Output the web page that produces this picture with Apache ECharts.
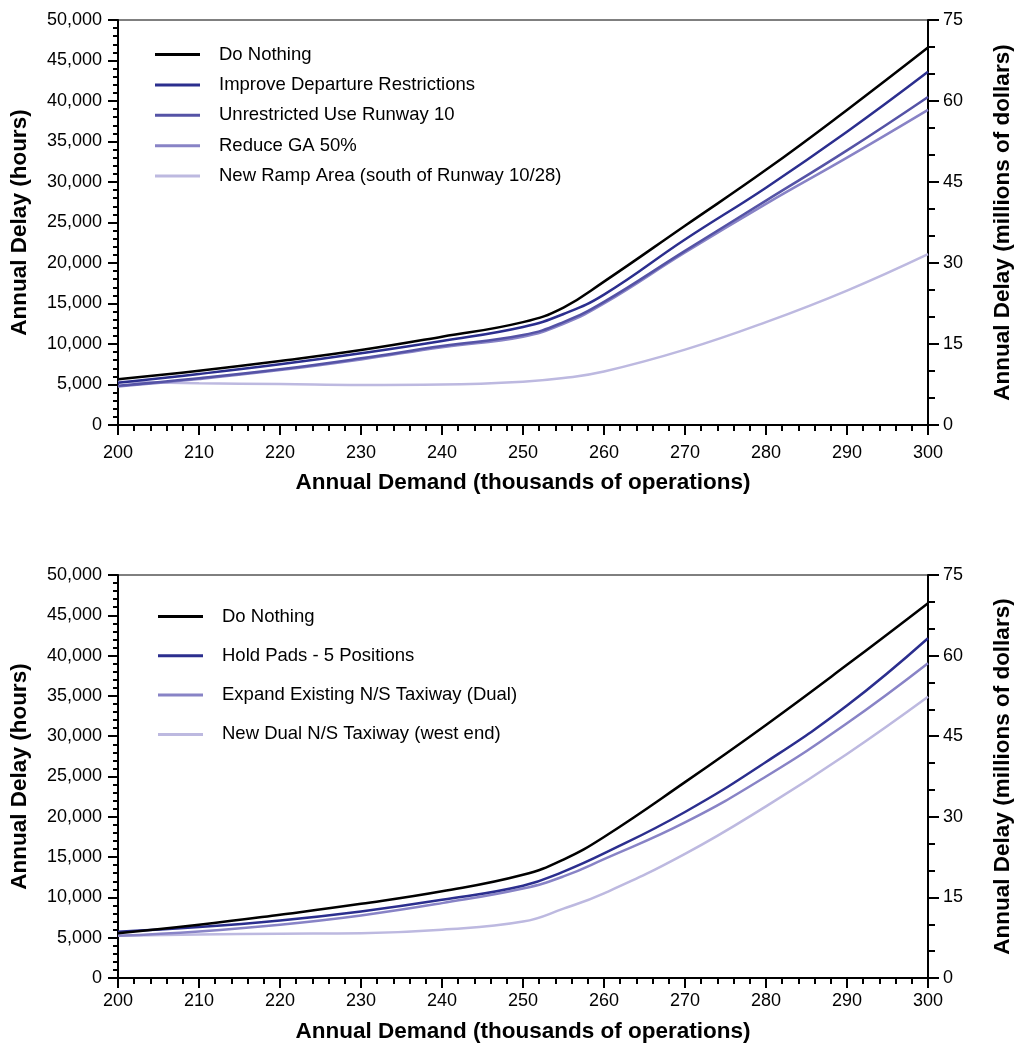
<!DOCTYPE html>
<html>
<head>
<meta charset="utf-8">
<script src="https://cdn.jsdelivr.net/npm/echarts@6/dist/echarts.min.js"></script>
<style>
html,body{margin:0;padding:0;background:#fff;}
#chart{width:1015px;height:1044px;}
</style>
</head>
<body>
<div id="chart"></div>
<script>
// ---- data ----
const demand = [200, 210, 220, 230, 240, 250, 255, 260, 270, 280, 290, 300];

// top chart (hours)
const doNothingTop = [5640, 6700, 7900, 9250, 10900, 12700, 14500, 17700, 24600, 31500, 38900, 46600];
const improveDeparture = [5230, 6300, 7490, 8850, 10370, 12100, 13700, 16100, 22900, 29300, 36200, 43600];
const unrestrictedRwy10 = [4850, 5780, 6880, 8230, 9750, 11100, 12700, 15200, 21500, 27700, 33900, 40500];
const reduceGA = [4750, 5680, 6780, 8100, 9600, 10900, 12500, 15000, 21300, 27300, 33000, 38900];
const newRampArea = [5350, 5140, 5060, 4940, 5000, 5350, 5800, 6600, 9300, 12700, 16600, 21100];

// bottom chart (hours)
const doNothingBottom = [5550, 6600, 7850, 9200, 10750, 12800, 14700, 17500, 24300, 31400, 38850, 46500];
const holdPads = [5750, 6320, 7140, 8260, 9700, 11450, 13200, 15450, 20600, 26800, 33800, 42150];
const expandNS = [5240, 5780, 6610, 7760, 9290, 11100, 12600, 14750, 19300, 25000, 31600, 39050];
const newDualNS = [5240, 5410, 5490, 5560, 5990, 7000, 8600, 10500, 15400, 21300, 27800, 34900];

const topNames = ['Do Nothing', 'Improve Departure Restrictions', 'Unrestricted Use Runway 10', 'Reduce GA 50%', 'New Ramp Area (south of Runway 10/28)'];
const topData = [doNothingTop, improveDeparture, unrestrictedRwy10, reduceGA, newRampArea];
const topColors = ['#000000', '#2b2e8e', '#5553a6', '#8883c6', '#bdb9e0'];

const botNames = ['Do Nothing', 'Hold Pads - 5 Positions', 'Expand Existing N/S Taxiway (Dual)', 'New Dual N/S Taxiway (west end)'];
const botData = [doNothingBottom, holdPads, expandNS, newDualNS];
const botColors = ['#000000', '#2b2e8e', '#8883c6', '#bdb9e0'];

const xTicks = [200, 300, 10];
const yLeftTicks = [0, 50000, 5000];
const yRightTicks = [0, 75, 15];

// ---- chart ----
const FONT = '"Liberation Sans", Arial, sans-serif';
const chart = echarts.init(document.getElementById('chart'), null, {renderer: 'canvas'});

function xAxis(gridIndex, nameGap, labelMargin) {
  return {
    type: 'value', gridIndex, min: xTicks[0], max: xTicks[1], interval: xTicks[2],
    name: 'Annual Demand (thousands of operations)', nameLocation: 'middle', nameGap,
    nameTextStyle: {fontFamily: FONT, fontWeight: 'bold', fontSize: 22.5, color: '#000'},
    axisLine: {show: true, onZero: false, lineStyle: {color: '#000', width: 2}},
    axisTick: {show: true, length: 10, lineStyle: {color: '#000', width: 2}},
    minorTick: {show: true, splitNumber: 5, length: 6, lineStyle: {color: '#000', width: 2}},
    axisLabel: {color: '#000', fontFamily: FONT, fontSize: 18, margin: labelMargin},
    splitLine: {show: false}
  };
}
function yLeft(gridIndex) {
  return {
    type: 'value', gridIndex, position: 'left', min: yLeftTicks[0], max: yLeftTicks[1], interval: yLeftTicks[2],
    name: 'Annual Delay (hours)', nameLocation: 'middle', nameGap: 87,
    nameTextStyle: {fontFamily: FONT, fontWeight: 'bold', fontSize: 22.5, color: '#000'},
    axisLine: {show: true, onZero: false, lineStyle: {color: '#000', width: 2}},
    axisTick: {show: true, length: 10, lineStyle: {color: '#000', width: 2}},
    minorTick: {show: true, splitNumber: 5, length: 5, lineStyle: {color: '#000', width: 2}},
    axisLabel: {color: '#000', fontFamily: FONT, fontSize: 18, margin: 16,
      formatter: v => v.toLocaleString('en-US')},
    splitLine: {show: false}
  };
}
function yRight(gridIndex) {
  return {
    type: 'value', gridIndex, position: 'right', min: yRightTicks[0], max: yRightTicks[1], interval: yRightTicks[2],
    name: 'Annual Delay (millions of dollars)', nameLocation: 'middle', nameGap: 63,
    nameTextStyle: {fontFamily: FONT, fontWeight: 'bold', fontSize: 22.5, color: '#000'},
    axisLine: {show: true, onZero: false, lineStyle: {color: '#000', width: 2}},
    axisTick: {show: true, length: 11, lineStyle: {color: '#000', width: 2}},
    minorTick: {show: true, splitNumber: 3, length: 7, lineStyle: {color: '#000', width: 2}},
    axisLabel: {color: '#000', fontFamily: FONT, fontSize: 18, margin: 15},
    splitLine: {show: false}
  };
}

function makeSeries(names, data, colors, xi, yi) {
  return names.map((n, k) => ({
    name: n, type: 'line', xAxisIndex: xi, yAxisIndex: yi,
    data: demand.map((d, i) => [d, data[k][i]]),
    showSymbol: false, symbol: 'none', smooth: 0.45,
    color: colors[k],
    lineStyle: {color: colors[k], width: 2.5},
    itemStyle: {color: colors[k]},
    z: 10 - k
  }));
}

function legend(names, top, left, gap) {
  return {
    orient: 'vertical', left, top, padding: 0, itemGap: gap,
    icon: 'rect', itemWidth: 45, itemHeight: 3,
    data: names,
    selectedMode: false,
    textStyle: {fontFamily: FONT, fontSize: 18.5, color: '#000', lineHeight: 20, padding: [0, 0, 0, 14]}
  };
}

const option = {
  backgroundColor: '#fff',
  animation: false,
  grid: [
    {left: 118, width: 810, top: 20, height: 405, show: true, borderColor: '#000', borderWidth: 1,
     backgroundColor: 'transparent', outerBoundsMode: 'none', containLabel: false},
    {left: 118, width: 810, top: 575, height: 403, show: true, borderColor: '#000', borderWidth: 1,
     backgroundColor: 'transparent', outerBoundsMode: 'none', containLabel: false}
  ],
  xAxis: [xAxis(0, 46, 19), xAxis(1, 42, 14)],
  yAxis: [yLeft(0), yRight(0), yLeft(1), yRight(1)],
  legend: [
    legend(topNames, 44.5, 155, 10.4),
    legend(botNames, 606.5, 158, 19.3)
  ],
  series: [
    ...makeSeries(topNames, topData, topColors, 0, 0),
    ...makeSeries(botNames, botData, botColors, 1, 2)
  ]
};
chart.setOption(option);
</script>
</body>
</html>
